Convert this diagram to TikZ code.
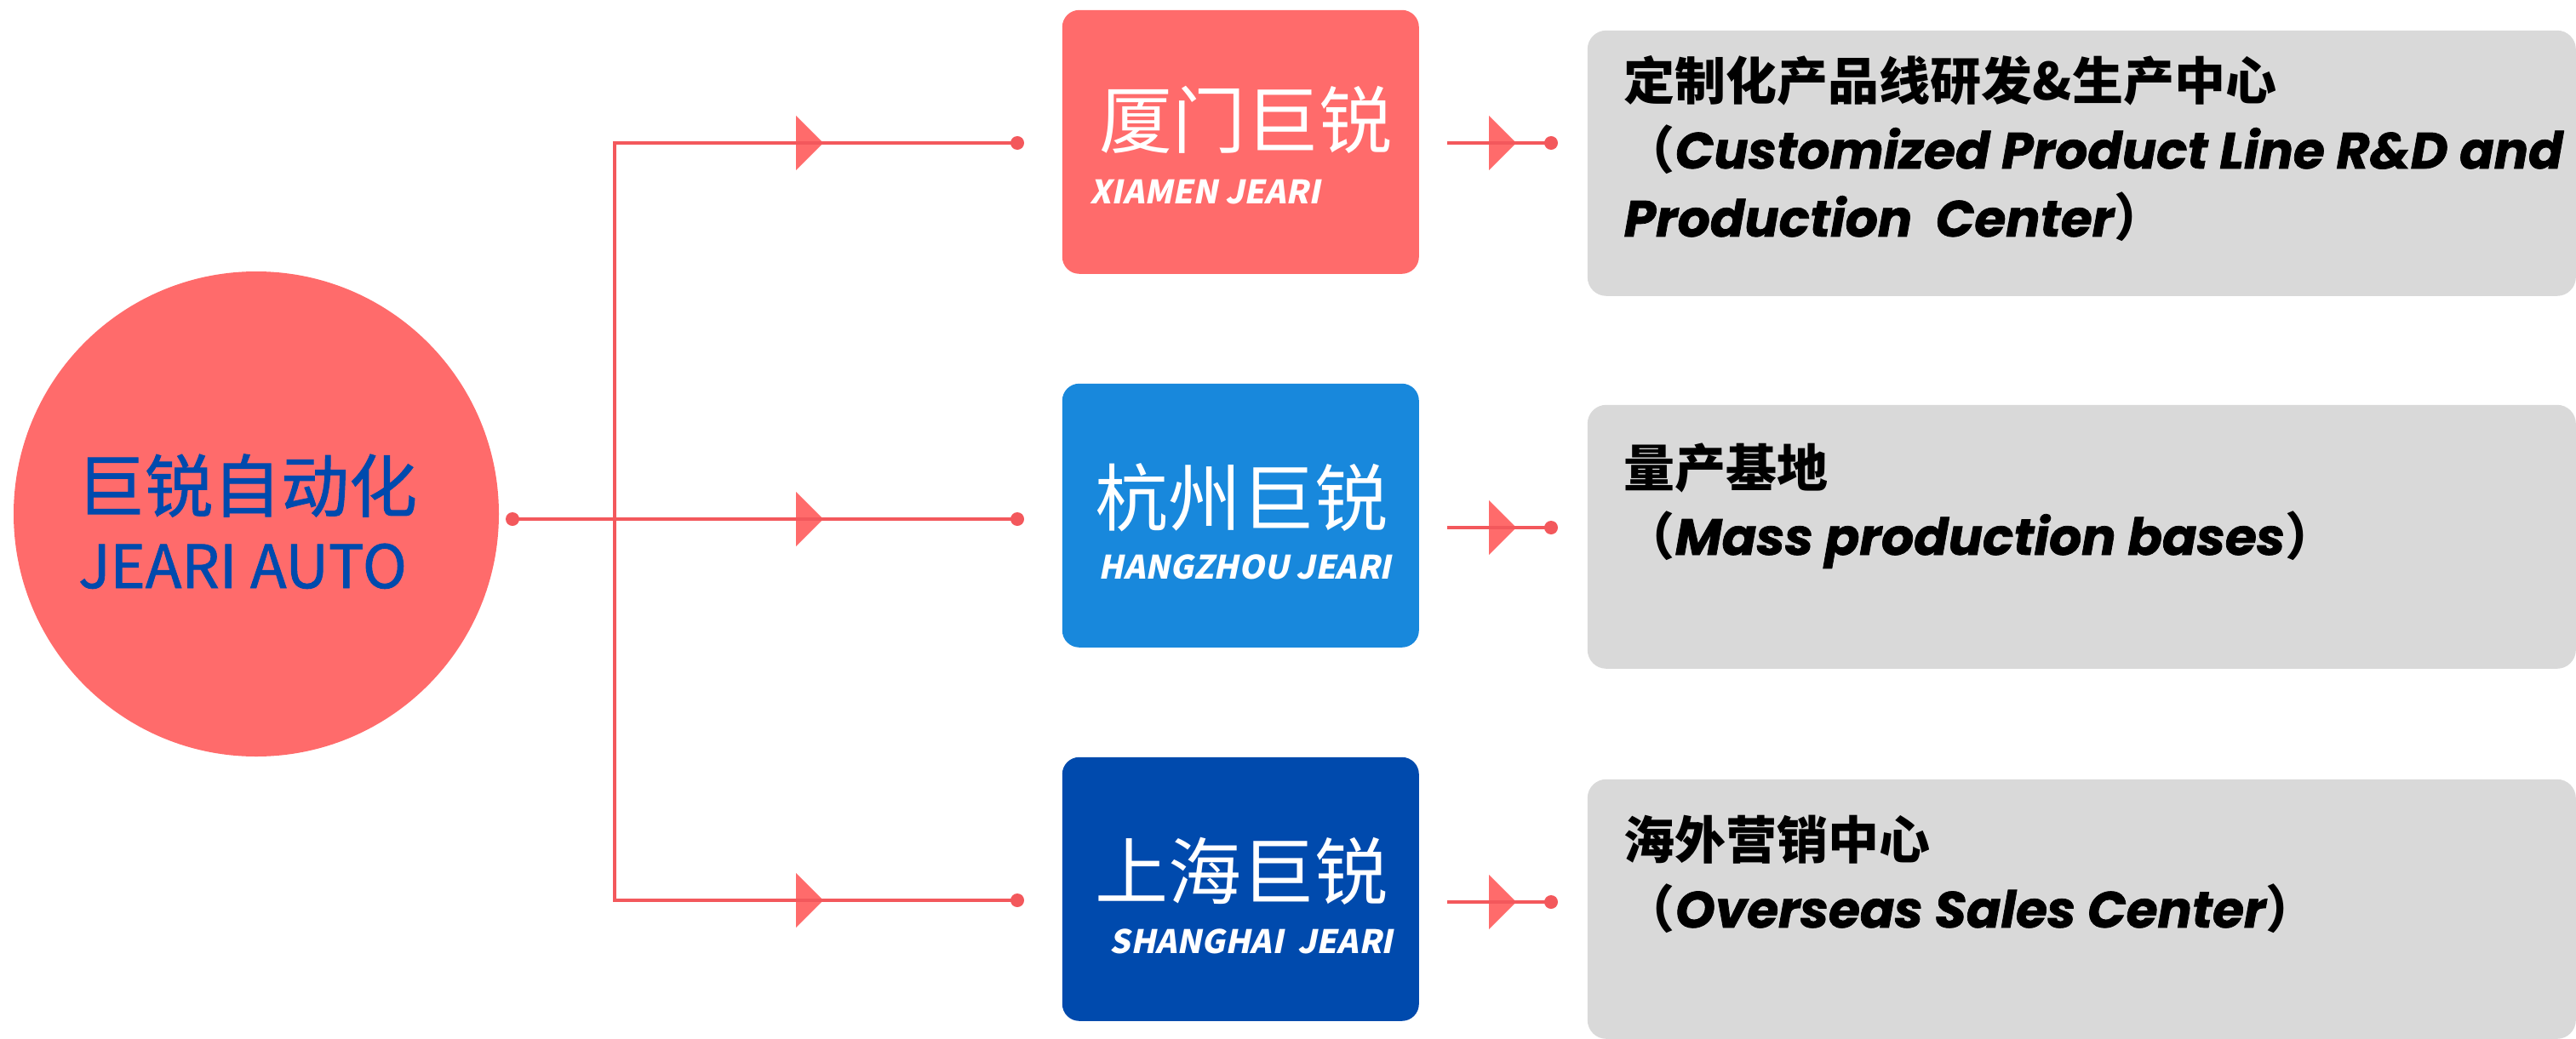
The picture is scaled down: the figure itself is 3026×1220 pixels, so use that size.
\documentclass[tikz,border=0pt]{standalone}
\usepackage{fontspec}
\usepackage{xcolor}
\usepackage{tikz}
\usetikzlibrary{
    positioning,
    calc
}
\setmainfont{Noto Sans CJK SC}
\newfontfamily\cjkfont{Noto Sans CJK SC}
\newfontfamily\hubfont[FakeBold=1.2]{Noto Sans CJK SC}
\newfontfamily\subfont[FakeSlant=0.2]{Noto Sans CJK SC}
\newfontfamily\enfont[FakeBold=1.2]{Poppins}
\definecolor{jeariRed}{RGB}{255, 107, 107}
\definecolor{lineRed}{RGB}{243, 88, 92}
\definecolor{jeariSky}{RGB}{24, 136, 220}
\definecolor{jeariNavy}{RGB}{0, 74, 173}
\definecolor{panelGray}{RGB}{217, 217, 217}
\newcommand\enbi[1]{{\enfont\bfseries\itshape\fontsize{14.95pt}{14.95pt}\selectfont #1}}
\newcommand\flagtip[1]{\fill[jeariRed, shift={(#1)}] (-16,-32) -- (16,0) -- (-16,32) -- cycle;}
\tikzset{
    branch/.style={line width=1pt, lineRed},
    tipdot/.style={circle, fill=lineRed, inner sep=0pt, minimum size=4pt},
    unitbox/.style={rounded corners=5pt, inner sep=0pt, anchor=north west,
        minimum width=104.75pt, minimum height=77.5pt},
    panel/.style={rounded corners=5.5pt, inner sep=0pt, anchor=north west,
        fill=panelGray, minimum width=290.25pt},
    unitname/.style={anchor=base, text=white, inner sep=0pt,
        font=\cjkfont\fontsize{21.5pt}{21.5pt}\selectfont},
    unitsub/.style={text=white, inner sep=0pt,
        font=\subfont\bfseries\fontsize{9.5pt}{9.5pt}\selectfont},
    desc/.style={anchor=base west, inner sep=0pt,
        font=\cjkfont\bfseries\fontsize{15pt}{15pt}\selectfont}
}
\begin{document}
\begin{tikzpicture}[x=0.25pt, y=-0.25pt]
                \useasboundingbox (0,0) rectangle (3026,1220);

                \node[circle, fill=jeariRed, minimum size=142.5pt, inner sep=0pt] (hub) at (301,604) {};
                \node[anchor=base, text=jeariNavy, inner sep=0pt, font=\hubfont\fontsize{20pt}{20pt}\selectfont] (hubCn) at (290,601) {巨锐自动化};
                \node[anchor=base, text=jeariNavy, inner sep=0pt, font=\hubfont\fontsize{17.5pt}{17.5pt}\selectfont] (hubEn) at (285,691) {JEARI AUTO};

                \node[unitbox, fill=jeariRed] (xm) at (1247,11) {};
                \node[unitbox, fill=jeariSky] (hz) at (1247,450) {};
                \node[unitbox, fill=jeariNavy] (sh) at (1247,889) {};

                \node[unitname] (xmCn) at (1463,174) {厦门巨锐};
                \node[unitname] (hzCn) at (1458,617) {杭州巨锐};
                \node[unitname] (shCn) at (1458,1056) {上海巨锐};
                \node[unitsub, anchor=base west] (xmEn) at (1280,239) {XIAMEN JEARI};
                \node[unitsub, anchor=base east] (hzEn) at (1635,680) {HANGZHOU JEARI};
                \node[unitsub, anchor=base east] (shEn) at (1637,1120) {SHANGHAI\ \ JEARI};

                \node[panel, minimum height=78pt] (xmP) at (1864,35) {};
                \node[panel, minimum height=77.5pt] (hzP) at (1864,475) {};
                \node[panel, minimum height=76.25pt] (shP) at (1864,915) {};

                \node[desc] (xmL1) at (1907,118) {定制化产品线研发\&生产中心};
                \node[desc] (xmL2) at (1907,198) {（\enbi{Customized Product Line R\&D and}};
                \node[desc] (xmL3) at (1907,278) {\enbi{Production\ \ Center}）};
                \node[desc] (hzL1) at (1907,572) {量产基地};
                \node[desc] (hzL2) at (1907,652) {（\enbi{Mass production bases}）};
                \node[desc] (shL1) at (1907,1009) {海外营销中心};
                \node[desc] (shL2) at (1907,1090) {（\enbi{Overseas Sales Center}）};

                \coordinate (t1) at (722,168);
                \coordinate (t2) at (722,610);
                \coordinate (t3) at (722,1058);
                \coordinate (a1) at (951,168);
                \coordinate (a2) at (951,610);
                \coordinate (a3) at (951,1058);
                \coordinate (s1) at (1700,168);
                \coordinate (s2) at (1700,620);
                \coordinate (s3) at (1700,1060);
                \coordinate (b1) at (1765,168);
                \coordinate (b2) at (1765,620);
                \coordinate (b3) at (1765,1060);

                \flagtip{a1} \flagtip{a2} \flagtip{a3}
                \flagtip{b1} \flagtip{b2} \flagtip{b3}

                \node[tipdot] (hubDot) at (602,610) {};
                \node[tipdot] (d1) at (1195,168) {};
                \node[tipdot] (d2) at (1195,610) {};
                \node[tipdot] (d3) at (1195,1058) {};
                \node[tipdot] (e1) at (1822,168) {};
                \node[tipdot] (e2) at (1822,620) {};
                \node[tipdot] (e3) at (1822,1060) {};

                \draw[branch] (hubDot.center) -- (t2);
                \draw[branch] (d1.center) -- (t1) -- (t3) -- (d3.center);
                \draw[branch] (t2) -- (d2.center);
                \draw[branch] (s1) -- (e1.center);
                \draw[branch] (s2) -- (e2.center);
                \draw[branch] (s3) -- (e3.center);
\end{tikzpicture}
\end{document}
